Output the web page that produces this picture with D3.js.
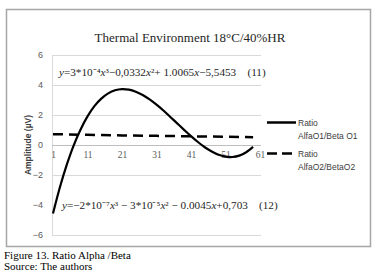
<!DOCTYPE html>
<html>
<head>
<meta charset="utf-8">
<script src="https://cdn.jsdelivr.net/npm/d3@7"></script>
<style>
  body { margin: 0; background: #fff; }
  svg { display: block; }
</style>
</head>
<body>
<script>
// values
var xTicks = [1, 11, 21, 31, 41, 51, 61];
var yTicks = [-6, -4, -2, 0, 2, 4, 6];

// Ratio AlfaO1/Beta O1 (solid)
var solidX = [1, 3, 5, 7, 9, 11, 13, 15, 17, 19, 21, 23, 25, 27, 29, 31, 33, 35, 37, 39, 41, 43, 45, 47, 49, 51, 53, 55, 57, 59];
var solidY = [-4.57, -2.82, -1.31, -0.02, 1.04, 1.91, 2.59, 3.09, 3.44, 3.65, 3.73, 3.69, 3.55, 3.33, 3.04, 2.69, 2.30, 1.87, 1.44, 1.01, 0.59, 0.20, -0.15, -0.43, -0.65, -0.77, -0.80, -0.71, -0.48, -0.12];

// Ratio AlfaO2/BetaO2 (dashed)
var dashX = [1, 11, 21, 31, 41, 51, 59];
var dashY = [0.72, 0.68, 0.64, 0.61, 0.58, 0.55, 0.52];

var seriesNames = [["Ratio", "AlfaO1/Beta O1"], ["Ratio", "AlfaO2/BetaO2"]];

window.onload = function(){
    drawChart();
};

function drawChart(){
    var svg = d3.select("body").append("svg").attr("width", 379).attr("height", 276);

    // outer frame
    svg.append("rect")
        .attr("x", 6.5).attr("y", 9.5)
        .attr("width", 364).attr("height", 237)
        .attr("fill", "#fff")
        .attr("stroke", "#a6a6a6")
        .attr("stroke-width", 1.5);

    var xScale = d3.scaleLinear().domain([1, 61]).range([53, 260]);
    var yScale = d3.scaleLinear().domain([-6, 6]).range([235, 55]);

    // gridlines
    svg.append("g")
        .selectAll("line")
        .data(yTicks.filter(function(d){ return d != 0; }))
        .enter()
        .append("line")
        .attr("x1", 52).attr("x2", 261)
        .attr("y1", function(d){ return Math.round(yScale(d)) + 0.5; })
        .attr("y2", function(d){ return Math.round(yScale(d)) + 0.5; })
        .attr("stroke", "#d9d9d9")
        .attr("stroke-width", 1);

    // left axis line
    svg.append("line")
        .attr("x1", 52.5).attr("x2", 52.5)
        .attr("y1", yScale(6)).attr("y2", yScale(-6))
        .attr("stroke", "#d9d9d9");

    // y axis
    var yAxis = svg.append("g")
        .attr("transform", "translate(52,0)")
        .call(d3.axisLeft(yScale).tickValues(yTicks).tickSize(0).tickPadding(9));
    yAxis.select(".domain").remove();
    yAxis.selectAll("text")
        .attr("font-family", "Liberation Sans, Arial, sans-serif")
        .attr("font-size", 9)
        .attr("fill", "#595959");

    // zero axis line
    svg.append("line")
        .attr("x1", 52).attr("x2", 261)
        .attr("y1", Math.round(yScale(0)) + 0.5).attr("y2", Math.round(yScale(0)) + 0.5)
        .attr("stroke", "#bfbfbf");

    // x axis labels sit under the zero line
    var xAxis = svg.append("g")
        .attr("transform", "translate(0," + yScale(0) + ")")
        .call(d3.axisBottom(xScale).tickValues(xTicks).tickSize(0).tickPadding(6).tickFormat(d3.format("d")));
    xAxis.select(".domain").remove();
    xAxis.selectAll("text")
        .attr("font-family", "Liberation Serif, Times New Roman, serif")
        .attr("font-size", 9.5)
        .attr("fill", "#595959");

    // axis title
    svg.append("text")
        .attr("transform", "translate(31," + yScale(0) + ") rotate(-90)")
        .attr("text-anchor", "middle")
        .attr("font-family", "Liberation Sans, Arial, sans-serif")
        .attr("font-weight", "bold")
        .attr("font-size", 8.5)
        .attr("fill", "#404040")
        .text("Amplitude (µV)");

    // title
    svg.append("text")
        .attr("x", 190).attr("y", 42)
        .attr("text-anchor", "middle")
        .attr("font-family", "Liberation Serif, Times New Roman, serif")
        .attr("font-size", 13)
        .attr("fill", "#262626")
        .text("Thermal Environment 18°C/40%HR");

    // equation 12 box hides the -4 gridline
    svg.append("rect")
        .attr("x", 56).attr("y", yScale(-4) - 8)
        .attr("width", 256).attr("height", 18)
        .attr("fill", "#fff");

    // dashed series
    var line = d3.line()
        .x(function(d){ return xScale(d[0]); })
        .y(function(d){ return yScale(d[1]); });

    svg.append("path")
        .datum(d3.zip(dashX, dashY))
        .attr("d", line)
        .attr("fill", "none")
        .attr("stroke", "#000")
        .attr("stroke-width", 2.5)
        .attr("stroke-dasharray", "10,6");

    // solid series
    svg.append("path")
        .datum(d3.zip(solidX, solidY))
        .attr("d", line.curve(d3.curveCatmullRom))
        .attr("fill", "none")
        .attr("stroke", "#000")
        .attr("stroke-width", 2.2);

    // equations
    var eq11 = [["y", 1], ["=3*10⁻⁴", 0], ["x", 1], ["³−0,0332", 0], ["x", 1], ["²+ 1.0065", 0], ["x", 1], ["−5,5453    (11)", 0]];
    var eq12 = [["y", 1], ["=−2*10⁻⁷", 0], ["x", 1], ["³ − 3*10⁻⁵", 0], ["x", 1], ["² − 0.0045", 0], ["x", 1], ["+0,703    (12)", 0]];
    drawEq(svg, eq11, 59, 76);
    drawEq(svg, eq12, 62, yScale(-4) + 4);

    // legend
    var leg = svg.append("g");
    var legY = [122.5, 153.5];
    leg.selectAll("line")
        .data(legY)
        .enter()
        .append("line")
        .attr("x1", 267).attr("x2", 296)
        .attr("y1", function(d){ return d; })
        .attr("y2", function(d){ return d; })
        .attr("stroke", "#000")
        .attr("stroke-width", 2.5)
        .attr("stroke-dasharray", function(d, i){ return i == 0 ? null : "10,5"; });
    seriesNames.forEach(function(n, i){
        var t = leg.append("text")
            .attr("font-family", "Liberation Sans, Arial, sans-serif")
            .attr("font-size", 8.5)
            .attr("fill", "#404040");
        t.append("tspan").attr("x", 298).attr("y", legY[i] + 3).text(n[0]);
        t.append("tspan").attr("x", 298).attr("y", legY[i] + 16).text(n[1]);
    });

    // caption under the frame
    svg.append("text")
        .attr("x", 4).attr("y", 259)
        .attr("font-family", "Liberation Serif, Times New Roman, serif")
        .attr("font-size", 11)
        .attr("fill", "#000")
        .text("Figure 13. Ratio Alpha /Beta");
    svg.append("text")
        .attr("x", 4).attr("y", 270)
        .attr("font-family", "Liberation Serif, Times New Roman, serif")
        .attr("font-size", 11)
        .attr("fill", "#000")
        .text("Source: The authors");
}

function drawEq(svg, parts, x, y){
    var t = svg.append("text")
        .attr("x", x).attr("y", y)
        .attr("font-family", "Liberation Serif, Times New Roman, serif")
        .attr("font-size", 11.2)
        .attr("fill", "#262626")
        .attr("xml:space", "preserve")
        .style("white-space", "pre");
    parts.forEach(function(p){
        t.append("tspan")
            .attr("font-style", p[1] ? "italic" : "normal")
            .text(p[0]);
    });
}
</script>
</body>
</html>
